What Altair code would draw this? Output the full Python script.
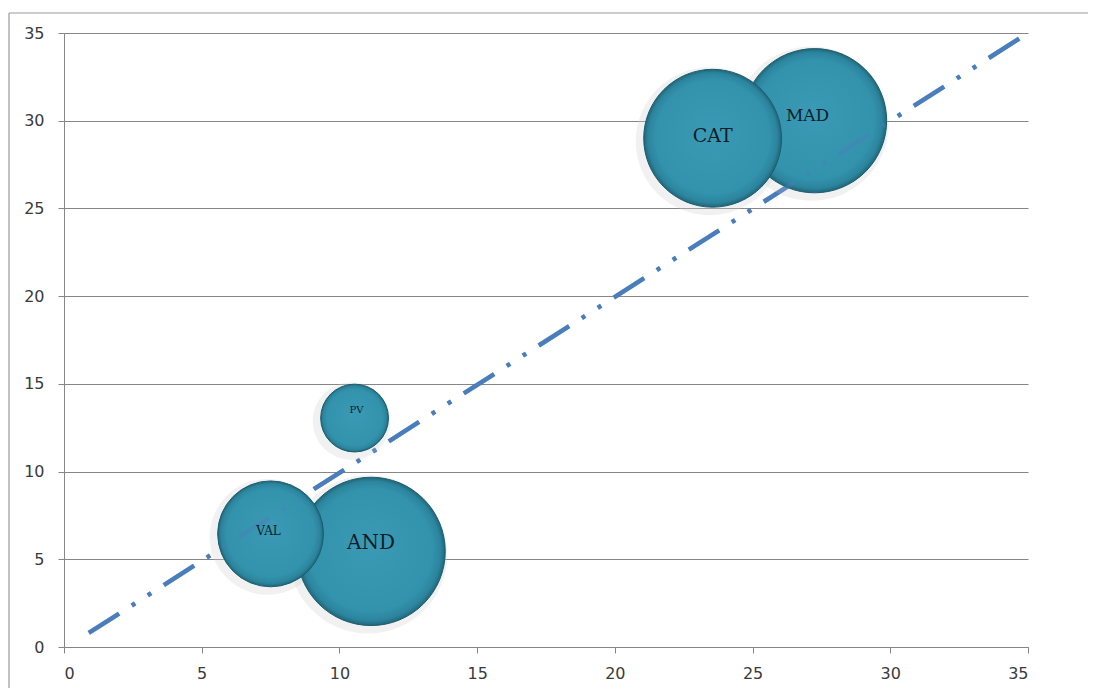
import altair as alt
import pandas as pd

# ---- data ----
labels = ["AND", "VAL", "PV", "MAD", "CAT"]
x_vals = [11.15, 7.5, 10.55, 27.25, 23.55]
y_vals = [5.45, 6.45, 13.05, 30.0, 29.0]
bubble_sizes = [55.0, 28.0, 11.5, 52.0, 47.5]

trend_x = [0.9, 34.7]
trend_y = [0.8, 34.7]

tick_vals = [0, 5, 10, 15, 20, 25, 30, 35]

bubbles = pd.DataFrame({"label": labels, "x": x_vals, "y": y_vals, "size": bubble_sizes})
trend = pd.DataFrame({"x": trend_x, "y": trend_y})

W, H = 964, 614
PAD = {"left": 56, "top": 25, "right": 61, "bottom": 41}

xscale = alt.Scale(domain=[0, 35], nice=False, zero=False)
yscale = alt.Scale(domain=[0, 35], nice=False, zero=False)
# vega symbol size = square of diameter -> r = sqrt(size)/2
sscale = alt.Scale(type="linear", domain=[0, 100], range=[0, 40000])

axis_common = dict(
    values=tick_vals,
    labelFont="DejaVu Sans",
    labelFontSize=16,
    labelColor="#3a3a3a",
    domainColor="#868686",
    tickColor="#868686",
    tickSize=6,
    title=None,
)

xenc = alt.X("x:Q", scale=xscale, axis=alt.Axis(grid=False, labelPadding=12, **axis_common))
yenc = alt.Y("y:Q", scale=yscale, axis=alt.Axis(grid=True, gridColor="#868686", gridWidth=1.2,
                                                labelPadding=14, **axis_common))

one = pd.DataFrame({"a": [0]})
frame_top = alt.Chart(one).mark_rule(stroke="#9a9a9a", strokeWidth=1.2).encode(
    x=alt.value(-55), x2=alt.value(W + PAD["right"] - 1), y=alt.value(-20))
frame_left = alt.Chart(one).mark_rule(stroke="#9a9a9a", strokeWidth=1.2).encode(
    x=alt.value(-55), y=alt.value(-20), y2=alt.value(H + PAD["bottom"]))

axes_layer = alt.Chart(bubbles).mark_point(opacity=0).encode(x=xenc, y=yenc)

dash = [36, 15, 4, 15, 4, 15]
line_base = alt.Chart(trend).mark_line(
    color="#4a7dbb", strokeWidth=4.5, strokeDash=dash, strokeCap="butt"
).encode(x=alt.X("x:Q", scale=xscale), y=alt.Y("y:Q", scale=yscale))

halo = alt.Chart(bubbles).transform_calculate(
    hs="pow(sqrt(datum.size) + 0.5, 2)"
).mark_circle(fill="#cfcfcf", opacity=0.3, strokeWidth=0).encode(
    x=alt.X("x:Q", scale=xscale), y=alt.Y("y:Q", scale=yscale),
    size=alt.Size("hs:Q", scale=sscale, legend=None),
    xOffset=alt.value(-3), yOffset=alt.value(3),
)

grad = {
    "gradient": "radial",
    "x1": 0.5, "y1": 0.45, "x2": 0.5, "y2": 0.5, "r1": 0, "r2": 0.5,
    "stops": [
        {"offset": 0.0, "color": "#3a9ab5"},
        {"offset": 0.82, "color": "#3393ad"},
        {"offset": 0.94, "color": "#2c849d"},
        {"offset": 1.0, "color": "#1f6679"},
    ],
}

bubble_layer = alt.Chart(bubbles).transform_calculate(
    order="indexof(['AND','VAL','PV','MAD','CAT'], datum.label)"
).mark_circle(
    fill=grad, opacity=1, stroke="#1d5d6f", strokeWidth=1
).encode(
    x=alt.X("x:Q", scale=xscale), y=alt.Y("y:Q", scale=yscale),
    size=alt.Size("size:Q", scale=sscale, legend=None),
    order=alt.Order("order:Q"),
)

line_top = alt.Chart(trend).mark_line(
    color="#4a7dbb", strokeWidth=4.5, strokeDash=dash, strokeCap="butt", opacity=0.4
).encode(x=alt.X("x:Q", scale=xscale), y=alt.Y("y:Q", scale=yscale))

label_style = {
    "AND": dict(size=20, dx=0, dy=-8),
    "VAL": dict(size=12, dx=-2, dy=-3),
    "PV": dict(size=10, dx=2, dy=-8),
    "MAD": dict(size=17, dx=-7, dy=-5),
    "CAT": dict(size=19, dx=0, dy=-2),
}

text_layers = []
for lab, st in label_style.items():
    text_layers.append(
        alt.Chart(bubbles).transform_filter(alt.datum.label == lab).mark_text(
            font="DejaVu Serif", fontSize=st["size"], color="#0f1e2a",
            dx=st["dx"], dy=st["dy"], align="center", baseline="middle",
        ).encode(x=alt.X("x:Q", scale=xscale), y=alt.Y("y:Q", scale=yscale), text="label:N")
    )

chart = alt.layer(
    frame_top, frame_left, axes_layer, line_base, halo, bubble_layer, line_top, *text_layers
).properties(
    width=W, height=H,
    autosize=alt.AutoSizeParams(type="none"),
    padding=PAD,
    background="#ffffff",
).configure_view(strokeWidth=0)

chart.save("out.html", embed_options={"renderer": "svg", "actions": False})
